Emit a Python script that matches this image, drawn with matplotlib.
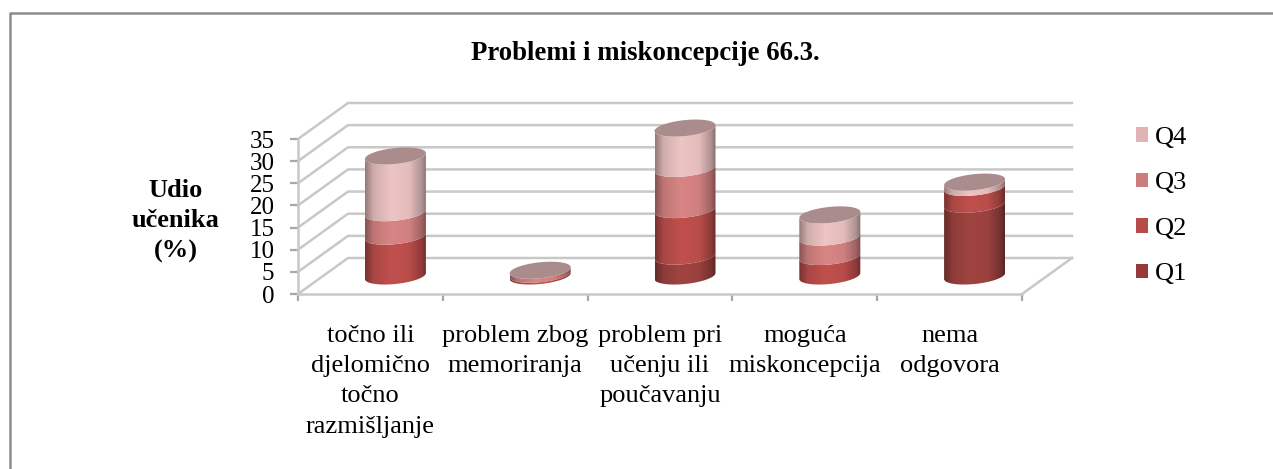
import numpy as np
import matplotlib
matplotlib.use("Agg")
import matplotlib.pyplot as plt
from matplotlib.colors import LinearSegmentedColormap, to_rgb
from matplotlib.lines import Line2D
from matplotlib.patches import Polygon, Patch

categories = ["točno ili\ndjelomično\ntočno\nrazmišljanje", "problem zbog\nmemoriranja",
              "problem pri\nučenju ili\npoučavanju", "moguća\nmiskoncepcija", "nema\nodgovora"]
q1 = [0, 0, 4.5, 0, 16.2]
q2 = [9, 0.4, 10.5, 4.4, 3.8]
q3 = [5.3, 0.9, 9.3, 4.4, 0]
q4 = [12.8, 0, 9.1, 5.0, 1.2]
series_names = ["Q1", "Q2", "Q3", "Q4"]
side_colors = ["#a04441", "#c0504d", "#d98585", "#eec4c4"]
legend_colors = ["#953a38", "#b64c49", "#cc7b7b", "#e0b4b4"]
top_color = "#ab8c8c"
yticks = [0, 5, 10, 15, 20, 25, 30, 35]

W, H = 1273, 469
plt.rcParams["font.family"] = ["Liberation Serif"]
fig = plt.figure(figsize=(W / 100, H / 100), dpi=100)
fig.patch.set_facecolor("white")
fig.add_artist(Line2D([10 / W, 10 / W, 1], [0, 1 - 13 / H, 1 - 13 / H], transform=fig.transFigure,
                      color="#8c8c8c", lw=1.8))

L, R, B, T = 298, 1022, 294, 139
ax = fig.add_axes([L / W, 1 - B / H, (R - L) / W, (B - T) / H])
ax.set_xlim(0, 5)
ax.set_ylim(0, 35)
ax.patch.set_alpha(0)
for s in ["top", "right"]:
    ax.spines[s].set_visible(False)
for s in ["left", "bottom"]:
    ax.spines[s].set_color("#c8c8c8")
    ax.spines[s].set_linewidth(1.8)

px = 5 / (R - L)
py = 35 / (B - T)
dx, dy = 50 * px, 36 * py
grid = "#c8c8c8"

for v in yticks:
    ax.plot([0, dx, 5 + dx], [v, v + dy, v + dy], color=grid, lw=1.8, clip_on=False, zorder=1)
ax.plot([5, 5 + dx], [0, dy], color=grid, lw=1.8, clip_on=False, zorder=1)

ax.set_xticks(range(6))
ax.set_xticklabels([])
ax.set_xticks(np.arange(5) + 0.5, categories, minor=True)
ax.tick_params(axis="x", which="major", length=5, width=1.6, color="#a8a8a8")
ax.tick_params(axis="x", which="minor", length=0, pad=22, labelsize=19)
for lab in ax.get_xticklabels(minor=True):
    lab.set_linespacing(1.49)
    lab.set_va("top")
ax.set_yticks(yticks)
ax.tick_params(axis="y", length=6, width=1.6, color="#a8a8a8", pad=11, labelsize=18)

a = 30.5 * px
b = 8 * py
k = 3 * py
t_front = np.linspace(np.pi, 2 * np.pi, 60)
t_all = np.linspace(0, 2 * np.pi, 120)
gx = np.linspace(0, 1, 256)


def ring(cx, level, t):
    return cx + a * np.cos(t), level + dy / 2 + b * np.sin(t) + k * np.cos(t)


def shade_map(col):
    c = np.array(to_rgb(col))
    dark = c * 0.62
    return LinearSegmentedColormap.from_list("s", [(0, dark), (0.14, c * 0.88), (0.42, c), (0.72, c * 0.96),
                                                   (0.92, c * 0.74), (1, c * 0.55)])


values = np.array([q1, q2, q3, q4])
for i in range(len(categories)):
    cx = i + 0.5 + dx / 2
    base = 0.0
    for j in range(len(series_names)):
        v = values[j][i]
        if v <= 0:
            continue
        x0, y0 = ring(cx, base, t_front)
        x1, y1 = ring(cx, base + v, t_front[::-1])
        poly = Polygon(np.column_stack([np.r_[x0, x1], np.r_[y0, y1]]), closed=True, fc="none", ec="none",
                       transform=ax.transData)
        ax.add_patch(poly)
        im = ax.imshow(gx[None, :], extent=[cx - a, cx + a, base, base + v + 10], origin="lower", aspect="auto",
                       cmap=shade_map(side_colors[j]), zorder=3 + j * 0.01 + i)
        im.set_clip_box(fig.bbox)
        im.set_clip_path(poly)
        base += v
    xt, yt = ring(cx, base, t_all)
    ax.add_patch(Polygon(np.column_stack([xt, yt]), closed=True, fc=top_color, ec="none", zorder=3.5 + i,
                         clip_on=False))
ax.set_xlim(0, 5)
ax.set_ylim(0, 35)

handles = [Patch(fc=legend_colors[j], ec="none", label=series_names[j]) for j in range(3, -1, -1)]
fig.legend(handles=handles, loc="upper left", bbox_to_anchor=(1136 / W, 1 - 127 / H), frameon=False, fontsize=19,
           handlelength=0.46, handleheight=0.46, handletextpad=0.25, labelspacing=0.89, borderpad=0, borderaxespad=0)

fig.text(645 / W, 1 - 54 / H, "Problemi i miskoncepcije 66.3.", ha="center", va="center", fontsize=19.3,
         fontweight="bold")
fig.text(176 / W, 1 - 221 / H, "Udio\nučenika\n(%)", ha="center", va="center", fontsize=19, fontweight="bold",
         linespacing=1.42)

fig.savefig("out.png", dpi=100)
